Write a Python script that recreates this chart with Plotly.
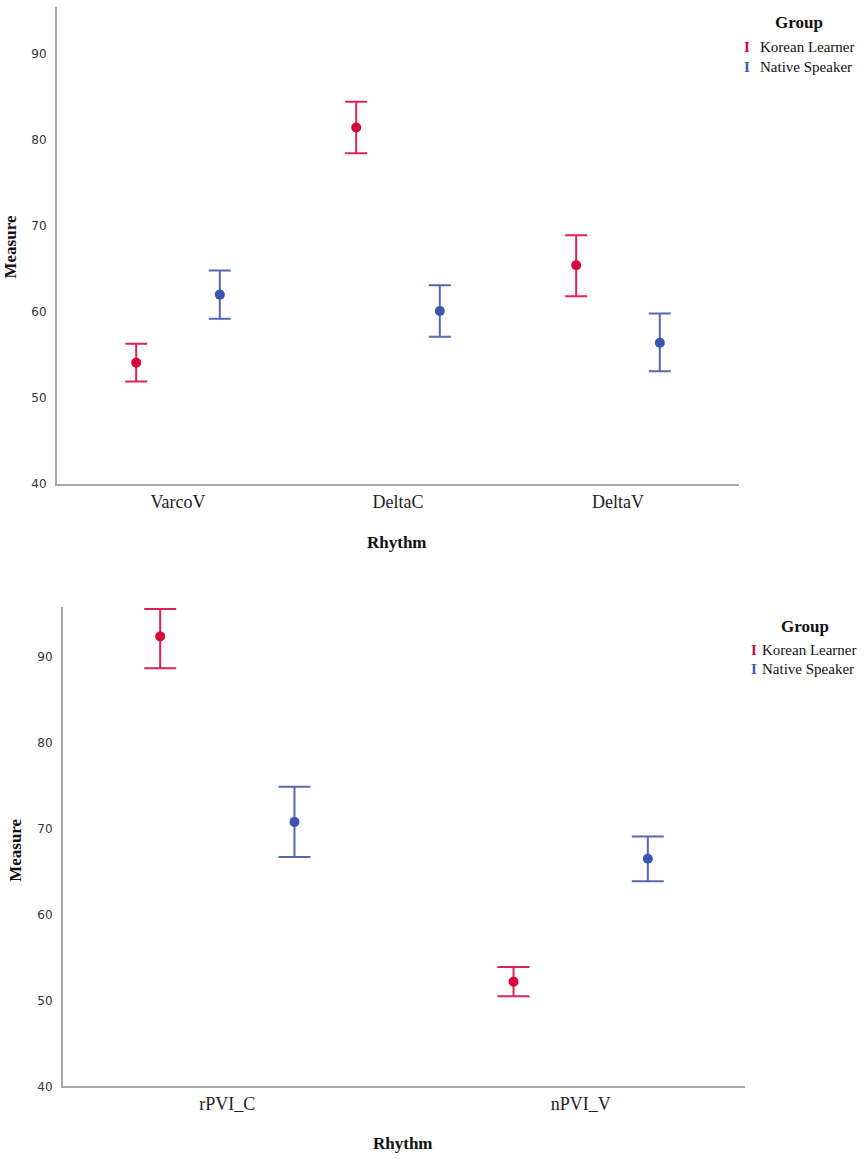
import plotly.graph_objects as go

# ---------------- data ----------------
groups = ["Korean Learner", "Native Speaker"]

top_categories = ["VarcoV", "DeltaC", "DeltaV"]
top_korean_mean = [54.1, 81.4, 65.4]
top_korean_upper = [56.3, 84.4, 68.9]
top_korean_lower = [51.9, 78.4, 61.8]
top_native_mean = [62.0, 60.1, 56.4]
top_native_upper = [64.8, 63.1, 59.8]
top_native_lower = [59.2, 57.1, 53.1]

bottom_categories = ["rPVI_C", "nPVI_V"]
bottom_korean_mean = [92.4, 52.2]
bottom_korean_upper = [95.6, 53.9]
bottom_korean_lower = [88.7, 50.5]
bottom_native_mean = [70.8, 66.5]
bottom_native_upper = [74.9, 69.1]
bottom_native_lower = [66.7, 63.9]

y_ticks = [40, 50, 60, 70, 80, 90]

# ---------------- style ----------------
RED = "#d7073c"
RED_BAR = "#dc2452"
BLUE = "#3c56ae"
BLUE_BAR = "#5468b4"
AXIS = "#a8a8a8"
SERIF = "Liberation Serif, Times New Roman, serif"
SANS = "DejaVu Sans, Tahoma, sans-serif"


def diffs(mean, upper, lower):
    plus = [u - m for u, m in zip(upper, mean)]
    minus = [m - l for m, l in zip(mean, lower)]
    return plus, minus


fig = go.Figure()

series = [
    ("x", "y", top_categories, top_korean_mean, top_korean_upper, top_korean_lower, RED, RED_BAR, 11, groups[0]),
    ("x", "y", top_categories, top_native_mean, top_native_upper, top_native_lower, BLUE, BLUE_BAR, 11, groups[1]),
    ("x2", "y2", bottom_categories, bottom_korean_mean, bottom_korean_upper, bottom_korean_lower, RED, RED_BAR, 16, groups[0]),
    ("x2", "y2", bottom_categories, bottom_native_mean, bottom_native_upper, bottom_native_lower, BLUE, BLUE_BAR, 16, groups[1]),
]

for xa, ya, cats, mean, up, lo, col, barcol, capw, name in series:
    plus, minus = diffs(mean, up, lo)
    fig.add_trace(go.Scatter(
        x=cats, y=mean, mode="markers", name=name, showlegend=False,
        xaxis=xa, yaxis=ya, cliponaxis=False,
        marker=dict(color=col, size=10),
        error_y=dict(type="data", symmetric=False, array=plus, arrayminus=minus,
                     color=barcol, thickness=2, width=capw),
    ))

axis_common = dict(showline=True, linecolor=AXIS, linewidth=2, showgrid=False,
                   zeroline=False, ticks="")

fig.update_layout(
    width=864, height=1159,
    margin=dict(l=0, r=0, t=0, b=0),
    paper_bgcolor="white", plot_bgcolor="white",
    scattermode="group", scattergap=0.24,
    showlegend=False,
    xaxis=dict(domain=[57 / 864, 739 / 864], anchor="y", type="category",
               range=[-0.55, 2.55], tickfont=dict(family=SERIF, size=18, color="#222"),
               **axis_common),
    yaxis=dict(domain=[1 - 487 / 1159, 1 - 7 / 1159], anchor="x",
               range=[40, 95.4], tickvals=y_ticks, ticklabelstandoff=6,
               tickfont=dict(family=SANS, size=12, color="#333"), **axis_common),
    xaxis2=dict(domain=[63 / 864, 745 / 864], anchor="y2", type="category",
                range=[-0.465, 1.465], tickfont=dict(family=SERIF, size=18, color="#222"),
                **axis_common),
    yaxis2=dict(domain=[1 - 1093 / 1159, 1 - 610.9 / 1159], anchor="x2",
                range=[40, 95.8], tickvals=y_ticks, ticklabelstandoff=6,
                tickfont=dict(family=SANS, size=12, color="#333"), **axis_common),
)

ann = []


def label(text, x, y, size=17, bold=True, angle=0, color="#111", xanchor="center"):
    ann.append(dict(text=f"<b>{text}</b>" if bold else text, x=x / 864, y=1 - y / 1159,
                    xref="paper", yref="paper", showarrow=False, textangle=angle,
                    xanchor=xanchor, yanchor="middle",
                    font=dict(family=SERIF, size=size, color=color)))


# axis titles
label("Measure", 10, 249, angle=-90)
label("Rhythm", 397, 546)
label("Measure", 16, 856, angle=-90)
label("Rhythm", 403, 1150)

# legends
for gy, ky, ny, ix, tx, gx in [(23, 47, 67, 747, 758, 799), (630, 654, 673, 754, 760, 805)]:
    label("Group", gx, gy, size=17)
    label("I", ix, ky, size=15, bold=True, color=RED)
    label(groups[0], tx, ky, size=15, bold=False, xanchor="left")
    label("I", ix, ny, size=15, bold=True, color=BLUE)
    label(groups[1], tx, ny, size=15, bold=False, xanchor="left")

fig.update_layout(annotations=ann)

fig.write_html("out.html", config={"displayModeBar": False},
               post_script="document.body.style.margin='0';document.body.style.padding='0';")
